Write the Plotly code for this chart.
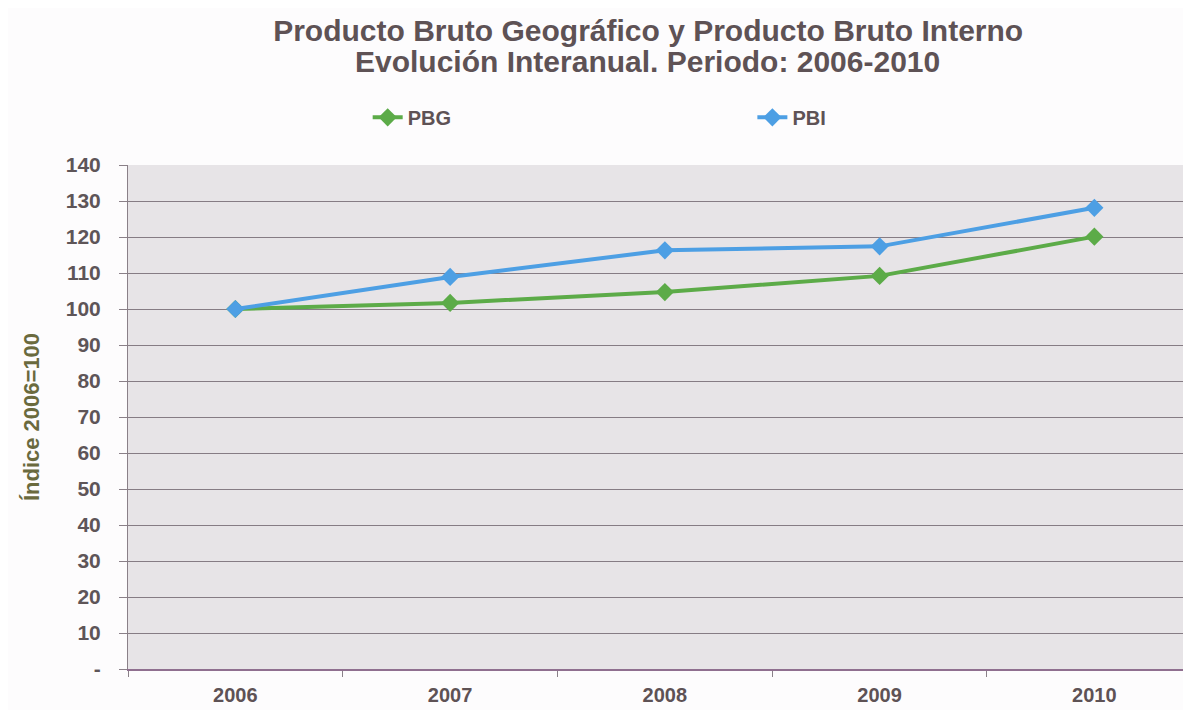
import plotly.graph_objects as go

# Données
years = ["2006", "2007", "2008", "2009", "2010"]
pbg = [100, 101.7, 104.7, 109.2, 120.1]
pbi = [100, 108.9, 116.3, 117.4, 128.1]

y_ticks = [0, 10, 20, 30, 40, 50, 60, 70, 80, 90, 100, 110, 120, 130, 140]
y_labels = ["-"] + [str(v) for v in y_ticks[1:]]

title_1 = "Producto Bruto Geográfico y Producto Bruto Interno"
title_2 = "Evolución Interanual. Periodo: 2006-2010"

FONT = "Liberation Sans, Arial, sans-serif"
TEXT = "#5e5255"
COLORS = {"PBG": "#5cab48", "PBI": "#4d9fe4"}

fig = go.Figure()
# chaque série dans sa propre légende pour garder l'écart large
for name, vals, leg in (("PBG", pbg, "legend"), ("PBI", pbi, "legend2")):
    fig.add_trace(go.Scatter(
        x=years, y=vals, name=name, mode="lines+markers", legend=leg,
        line=dict(color=COLORS[name], width=4),
        marker=dict(symbol="diamond", size=14, color=COLORS[name]),
    ))

legend_style = dict(
    orientation="h", xref="container", yref="container",
    y=0.846, yanchor="middle", xanchor="left",
    font=dict(size=20, color=TEXT, family=FONT, weight="bold"),
    bgcolor="rgba(0,0,0,0)",
)

fig.update_layout(
    width=1191, height=710,
    margin=dict(l=120, r=8, t=157, b=49),
    paper_bgcolor="#fdfcfd",
    plot_bgcolor="#e7e4e7",
    font=dict(family=FONT, color="#6a6266"),
    title=dict(
        text=f"<b>{title_1}</b>", xref="container", yref="container",
        x=0.5375, xanchor="center", y=0.969, yanchor="middle",
        font=dict(size=30, color=TEXT),
    ),
    annotations=[dict(
        text=f"<b>{title_2}</b>", xref="paper", yref="paper",
        x=0.4887, y=1.206, xanchor="center", yanchor="middle",
        showarrow=False, font=dict(size=30, color=TEXT, family=FONT),
    )],
    legend=dict(legend_style, x=0.302),
    legend2=dict(legend_style, x=0.625),
    showlegend=True,
)

fig.update_xaxes(
    type="category", range=[-0.5, 4.45], automargin=False,
    showgrid=False, showline=True, linecolor="#8f6f8f", linewidth=2,
    ticks="outside", tickson="boundaries", ticklen=6, tickcolor="#8a8088",
    tickfont=dict(size=20, color=TEXT, family=FONT, weight="bold"),
    ticklabelstandoff=7,
)
fig.update_yaxes(
    range=[0, 140], tickvals=y_ticks, ticktext=y_labels, automargin=False,
    showgrid=True, gridcolor="#867c84", gridwidth=1,
    showline=True, linecolor="#8a8088", linewidth=1,
    ticks="outside", ticklen=8, tickcolor="#8a8088",
    tickfont=dict(size=21, color="#5e5558", family=FONT, weight="bold"),
    ticklabelstandoff=14,
    zeroline=False,
    title=dict(text="<b>Índice 2006=100</b>", font=dict(size=22, color="#6a6a3e"),
               standoff=20),
)

fig.write_html("out.html")
